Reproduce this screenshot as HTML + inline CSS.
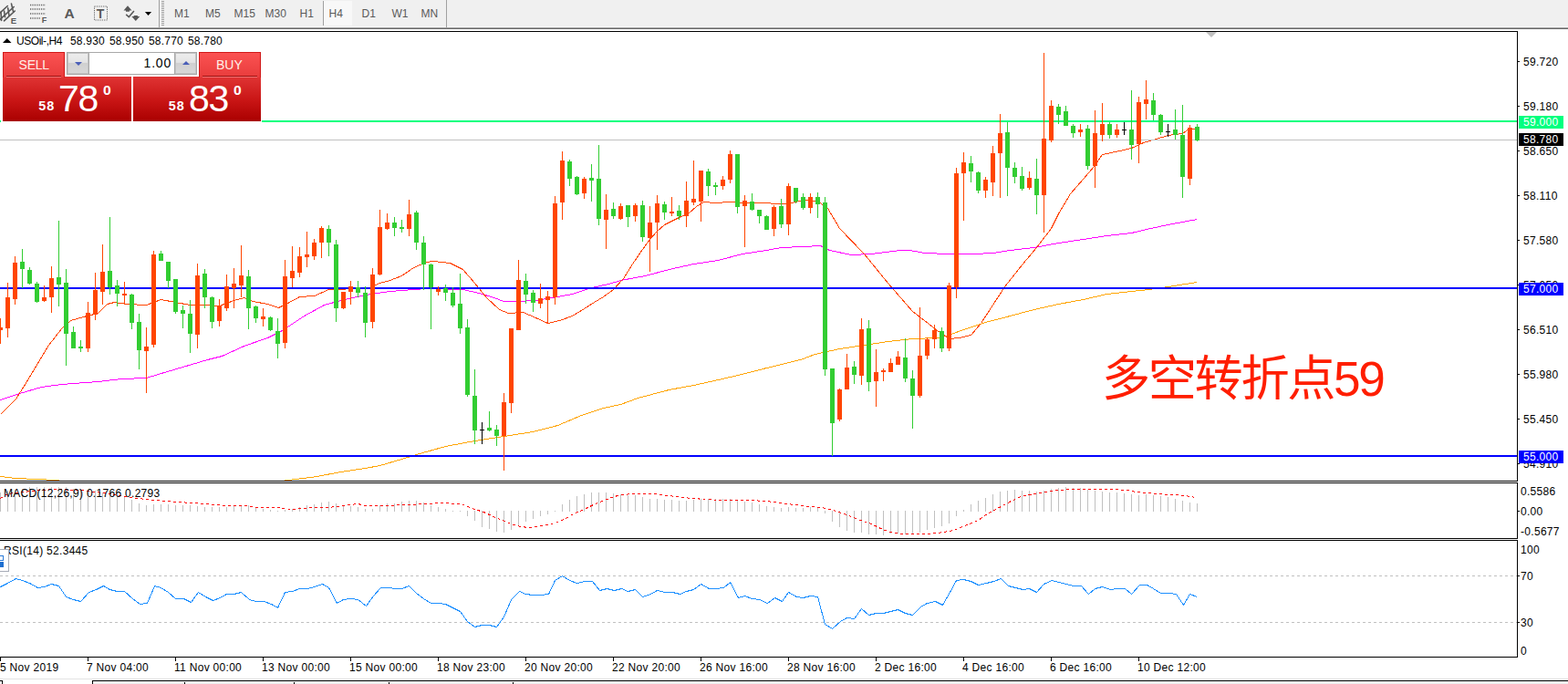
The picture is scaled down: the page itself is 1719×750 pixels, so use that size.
<!DOCTYPE html>
<html><head><meta charset="utf-8"><title>USOil H4</title>
<style>
html,body{margin:0;padding:0;background:#fff;}
body{width:1719px;height:750px;position:relative;overflow:hidden;font-family:"Liberation Sans",sans-serif;font-size:12px;color:#000;}
.t{position:absolute;white-space:nowrap;font-size:12px;line-height:14px;letter-spacing:0.3px;}
.tag{position:absolute;width:49px;height:14px;line-height:13px;font-size:12px;box-sizing:border-box;padding-left:5px;padding-top:1px;white-space:nowrap;letter-spacing:0.3px;}
#tb{position:absolute;left:0;top:0;width:1719px;height:30px;background:#f0f0f0;box-sizing:border-box;border-bottom:1px solid #f8f8f8;}
#tbl{position:absolute;left:0;top:30px;width:1719px;height:2px;background:linear-gradient(to bottom,#a0a0a0 0,#a0a0a0 50%,#696969 50%,#696969 100%);}
.tf{position:absolute;top:8px;font-size:12px;line-height:14px;color:#5a5a5a;}

#oct div{position:absolute;}
.wbg{background:#fff;}
.big{background:linear-gradient(to bottom,#e03434 0%,#c81414 55%,#a90000 100%);}
.btn{background:linear-gradient(to bottom,#fb5252 0%,#e83c3c 100%);box-sizing:border-box;border:1px solid #d01818;border-bottom:none;}
.btn span{position:absolute;top:4.6px;font-size:14px;line-height:16px;color:#fff0e8;}
.ul{height:1px;background:#a01010;box-shadow:0 1px 0 #f07070;}
.vol{box-sizing:border-box;border:1px solid #a8a8a8;background:#fff;}
.sp{top:0;width:23px;height:23px;background:linear-gradient(to bottom,#eeeeee 0%,#e4e4e4 45%,#d0d0d0 50%,#d8d8d8 100%);box-shadow:0 0 0 1px #c4c4c4 inset;}
.sp i{position:absolute;left:7.5px;width:0;height:0;border-left:4px solid transparent;border-right:4px solid transparent;}
.sp i.dn{top:10px;border-top:4px solid #4a5fb8;}
.sp i.up{top:9px;border-bottom:4px solid #4a5fb8;}
.vt{right:27px;top:3px;font-size:14px;line-height:16px;color:#000;letter-spacing:0.8px;}
.p1{font-size:14.4px;font-weight:bold;color:#fff;line-height:15px;letter-spacing:0.9px;}
.p2{font-size:41px;color:#fff;line-height:41px;letter-spacing:-1.2px;}
.p3{font-size:14.8px;font-weight:bold;color:#fff;line-height:15px;transform:scaleX(1.06);transform-origin:0 0;}
</style></head><body>
<svg width="1719" height="750" viewBox="0 0 1719 750" style="position:absolute;left:0;top:0"><defs><clipPath id="cp"><rect x="0" y="35" width="1663" height="492"/></clipPath></defs><g clip-path="url(#cp)"><polyline points="0.5,522.5 16.5,524.5 40.5,525.5 61.5,526.5 75.5,528.5 300.5,528.5 316.5,526.5 347.5,522.5 373.5,517.5 400.5,513.5 416.5,510.5 440.5,503.5 456.5,498.5 488.5,489.5 520.5,483.5 552.5,478.5 584.5,473.5 611.5,466.5 637.5,455.5 661.5,447.5 680.5,443.5 699.5,436.5 733.5,427.5 760.5,422.5 787.5,416.5 813.5,410.5 840.5,403.5 861.5,398.5 880.5,393.5 893.5,388.5 920.5,382.5 947.5,378.5 973.5,374.5 1000.5,371.5 1027.5,370.5 1040.5,367.5 1053.5,362.5 1080.5,353.5 1107.5,346.5 1133.5,339.5 1160.5,333.5 1187.5,328.5 1213.5,322.5 1240.5,319.5 1259.5,317.5 1280.5,314.5 1312.5,309.5" fill="none" stroke="#ffa500" stroke-width="1" shape-rendering="crispEdges"/><polyline points="0.5,438.5 21.5,431.5 45.5,424.5 67.5,421.5 107.5,418.5 133.5,415.5 160.5,414.5 173.5,410.5 200.5,402.5 227.5,394.5 243.5,390.5 267.5,379.5 293.5,370.5 309.5,362.5 333.5,346.5 355.5,334.5 373.5,329.5 400.5,323.5 427.5,319.5 440.5,318.5 467.5,316.5 507.5,317.5 525.5,321.5 541.5,326.5 552.5,330.5 565.5,330.5 587.5,329.5 605.5,326.5 627.5,322.5 648.5,315.5 667.5,311.5 680.5,307.5 707.5,302.5 733.5,295.5 760.5,289.5 787.5,285.5 813.5,278.5 840.5,274.5 856.5,271.5 880.5,270.5 899.5,269.5 909.5,274.5 933.5,279.5 955.5,278.5 987.5,274.5 997.5,274.5 1013.5,277.5 1040.5,278.5 1067.5,278.5 1088.5,277.5 1107.5,274.5 1133.5,271.5 1160.5,266.5 1187.5,262.5 1213.5,258.5 1240.5,255.5 1261.5,250.5 1280.5,246.5 1312.5,240.5" fill="none" stroke="#ff00ff" stroke-width="1" shape-rendering="crispEdges"/><polyline points="0.5,454.5 17.5,437.5 29.5,418.5 53.5,378.5 67.5,360.5 77.5,351.5 91.5,347.5 107.5,343.5 117.5,333.5 125.5,331.5 139.5,333.5 160.5,334.5 176.5,328.5 192.5,331.5 208.5,334.5 224.5,334.5 240.5,335.5 256.5,329.5 267.5,326.5 277.5,330.5 293.5,333.5 305.5,337.5 315.5,332.5 328.5,325.5 344.5,324.5 360.5,317.5 373.5,317.5 384.5,316.5 405.5,315.5 416.5,310.5 427.5,307.5 440.5,302.5 453.5,293.5 467.5,287.5 475.5,286.5 493.5,288.5 507.5,295.5 520.5,310.5 533.5,326.5 547.5,339.5 557.5,343.5 573.5,342.5 587.5,348.5 600.5,354.5 613.5,351.5 627.5,346.5 640.5,338.5 651.5,331.5 661.5,325.5 672.5,317.5 683.5,305.5 693.5,289.5 704.5,273.5 712.5,262.5 720.5,253.5 728.5,246.5 744.5,238.5 755.5,233.5 763.5,226.5 771.5,221.5 784.5,222.5 800.5,221.5 813.5,222.5 832.5,222.5 856.5,223.5 867.5,222.5 880.5,219.5 896.5,220.5 907.5,228.5 920.5,250.5 947.5,278.5 973.5,310.5 1000.5,341.5 1013.5,351.5 1027.5,362.5 1040.5,371.5 1051.5,370.5 1064.5,367.5 1075.5,354.5 1088.5,334.5 1101.5,314.5 1120.5,290.5 1136.5,271.5 1152.5,250.5 1160.5,234.5 1173.5,212.5 1187.5,196.5 1199.5,182.5 1208.5,169.5 1227.5,165.5 1240.5,162.5 1253.5,156.5 1267.5,152.5 1280.5,148.5 1296.5,146.5 1304.5,140.5 1313.5,142.5" fill="none" stroke="#ff4500" stroke-width="1" shape-rendering="crispEdges"/></g>
<rect x="0" y="132" width="1663" height="2" fill="#00ff7f"/>
<rect x="0" y="153" width="1663" height="1" fill="#c0c0c0"/>
<rect x="0" y="315" width="1663" height="2" fill="#0000ff"/>
<rect x="0" y="499" width="1663" height="2" fill="#0000ff"/>
<g shape-rendering="crispEdges"><rect x="0" y="349" width="1" height="28" fill="#ff4500"/><rect x="-2" y="359" width="5" height="3" fill="#ff4500"/><rect x="8" y="310" width="1" height="60" fill="#ff4500"/><rect x="6" y="326" width="5" height="34" fill="#ff4500"/><rect x="16" y="281" width="1" height="53" fill="#ff4500"/><rect x="14" y="288" width="5" height="40" fill="#ff4500"/><rect x="24" y="273" width="1" height="43" fill="#32cd32"/><rect x="22" y="287" width="5" height="8" fill="#32cd32"/><rect x="32" y="293" width="1" height="19" fill="#32cd32"/><rect x="30" y="296" width="5" height="15" fill="#32cd32"/><rect x="40" y="309" width="1" height="23" fill="#32cd32"/><rect x="38" y="311" width="5" height="20" fill="#32cd32"/><rect x="48" y="313" width="1" height="18" fill="#ff4500"/><rect x="46" y="326" width="5" height="4" fill="#ff4500"/><rect x="56" y="292" width="1" height="51" fill="#ff4500"/><rect x="54" y="305" width="5" height="21" fill="#ff4500"/><rect x="64" y="242" width="1" height="94" fill="#32cd32"/><rect x="62" y="304" width="5" height="8" fill="#32cd32"/><rect x="72" y="295" width="1" height="106" fill="#32cd32"/><rect x="70" y="310" width="5" height="56" fill="#32cd32"/><rect x="80" y="358" width="1" height="24" fill="#32cd32"/><rect x="78" y="364" width="5" height="18" fill="#32cd32"/><rect x="88" y="373" width="1" height="13" fill="#32cd32"/><rect x="86" y="380" width="5" height="2" fill="#32cd32"/><rect x="96" y="331" width="1" height="55" fill="#ff4500"/><rect x="94" y="343" width="5" height="39" fill="#ff4500"/><rect x="104" y="299" width="1" height="52" fill="#ff4500"/><rect x="102" y="318" width="5" height="27" fill="#ff4500"/><rect x="112" y="268" width="1" height="66" fill="#ff4500"/><rect x="110" y="298" width="5" height="22" fill="#ff4500"/><rect x="120" y="238" width="1" height="85" fill="#32cd32"/><rect x="118" y="297" width="5" height="18" fill="#32cd32"/><rect x="128" y="307" width="1" height="29" fill="#32cd32"/><rect x="126" y="313" width="5" height="9" fill="#32cd32"/><rect x="136" y="309" width="1" height="25" fill="#ff4500"/><rect x="134" y="322" width="5" height="2" fill="#ff4500"/><rect x="144" y="322" width="1" height="39" fill="#32cd32"/><rect x="142" y="323" width="5" height="31" fill="#32cd32"/><rect x="152" y="344" width="1" height="61" fill="#32cd32"/><rect x="150" y="353" width="5" height="31" fill="#32cd32"/><rect x="160" y="359" width="1" height="72" fill="#ff4500"/><rect x="158" y="380" width="5" height="5" fill="#ff4500"/><rect x="168" y="275" width="1" height="106" fill="#ff4500"/><rect x="166" y="279" width="5" height="99" fill="#ff4500"/><rect x="176" y="275" width="1" height="11" fill="#32cd32"/><rect x="174" y="278" width="5" height="8" fill="#32cd32"/><rect x="184" y="287" width="1" height="29" fill="#32cd32"/><rect x="182" y="287" width="5" height="21" fill="#32cd32"/><rect x="192" y="306" width="1" height="38" fill="#32cd32"/><rect x="190" y="306" width="5" height="36" fill="#32cd32"/><rect x="200" y="335" width="1" height="25" fill="#32cd32"/><rect x="198" y="340" width="5" height="4" fill="#32cd32"/><rect x="208" y="329" width="1" height="58" fill="#32cd32"/><rect x="206" y="344" width="5" height="22" fill="#32cd32"/><rect x="216" y="289" width="1" height="93" fill="#ff4500"/><rect x="214" y="302" width="5" height="65" fill="#ff4500"/><rect x="224" y="295" width="1" height="43" fill="#32cd32"/><rect x="222" y="300" width="5" height="26" fill="#32cd32"/><rect x="232" y="325" width="1" height="35" fill="#32cd32"/><rect x="230" y="326" width="5" height="27" fill="#32cd32"/><rect x="240" y="328" width="1" height="30" fill="#ff4500"/><rect x="238" y="335" width="5" height="17" fill="#ff4500"/><rect x="248" y="301" width="1" height="40" fill="#ff4500"/><rect x="246" y="314" width="5" height="24" fill="#ff4500"/><rect x="256" y="294" width="1" height="44" fill="#ff4500"/><rect x="254" y="311" width="5" height="5" fill="#ff4500"/><rect x="264" y="269" width="1" height="57" fill="#ff4500"/><rect x="262" y="302" width="5" height="11" fill="#ff4500"/><rect x="272" y="296" width="1" height="65" fill="#32cd32"/><rect x="270" y="303" width="5" height="35" fill="#32cd32"/><rect x="280" y="335" width="1" height="19" fill="#32cd32"/><rect x="278" y="336" width="5" height="13" fill="#32cd32"/><rect x="288" y="338" width="1" height="20" fill="#ff4500"/><rect x="286" y="347" width="5" height="3" fill="#ff4500"/><rect x="296" y="347" width="1" height="16" fill="#32cd32"/><rect x="294" y="348" width="5" height="14" fill="#32cd32"/><rect x="304" y="349" width="1" height="44" fill="#32cd32"/><rect x="302" y="363" width="5" height="14" fill="#32cd32"/><rect x="312" y="285" width="1" height="97" fill="#ff4500"/><rect x="310" y="303" width="5" height="73" fill="#ff4500"/><rect x="320" y="270" width="1" height="45" fill="#ff4500"/><rect x="318" y="297" width="5" height="8" fill="#ff4500"/><rect x="328" y="271" width="1" height="33" fill="#ff4500"/><rect x="326" y="281" width="5" height="18" fill="#ff4500"/><rect x="336" y="254" width="1" height="39" fill="#ff4500"/><rect x="334" y="279" width="5" height="3" fill="#ff4500"/><rect x="344" y="262" width="1" height="23" fill="#ff4500"/><rect x="342" y="266" width="5" height="15" fill="#ff4500"/><rect x="352" y="248" width="1" height="35" fill="#ff4500"/><rect x="350" y="250" width="5" height="16" fill="#ff4500"/><rect x="360" y="247" width="1" height="34" fill="#32cd32"/><rect x="358" y="251" width="5" height="15" fill="#32cd32"/><rect x="368" y="263" width="1" height="90" fill="#32cd32"/><rect x="366" y="268" width="5" height="70" fill="#32cd32"/><rect x="376" y="320" width="1" height="19" fill="#ff4500"/><rect x="374" y="320" width="5" height="18" fill="#ff4500"/><rect x="384" y="308" width="1" height="26" fill="#ff4500"/><rect x="382" y="314" width="5" height="6" fill="#ff4500"/><rect x="392" y="308" width="1" height="18" fill="#32cd32"/><rect x="390" y="315" width="5" height="6" fill="#32cd32"/><rect x="400" y="314" width="1" height="56" fill="#32cd32"/><rect x="398" y="321" width="5" height="33" fill="#32cd32"/><rect x="408" y="294" width="1" height="66" fill="#ff4500"/><rect x="406" y="301" width="5" height="52" fill="#ff4500"/><rect x="416" y="230" width="1" height="72" fill="#ff4500"/><rect x="414" y="249" width="5" height="52" fill="#ff4500"/><rect x="424" y="234" width="1" height="18" fill="#ff4500"/><rect x="422" y="244" width="5" height="7" fill="#ff4500"/><rect x="432" y="238" width="1" height="21" fill="#32cd32"/><rect x="430" y="244" width="5" height="6" fill="#32cd32"/><rect x="440" y="241" width="1" height="14" fill="#32cd32"/><rect x="438" y="249" width="5" height="2" fill="#32cd32"/><rect x="448" y="219" width="1" height="40" fill="#ff4500"/><rect x="446" y="235" width="5" height="16" fill="#ff4500"/><rect x="456" y="231" width="1" height="43" fill="#32cd32"/><rect x="454" y="233" width="5" height="33" fill="#32cd32"/><rect x="464" y="259" width="1" height="59" fill="#32cd32"/><rect x="462" y="266" width="5" height="24" fill="#32cd32"/><rect x="472" y="289" width="1" height="72" fill="#32cd32"/><rect x="470" y="290" width="5" height="25" fill="#32cd32"/><rect x="480" y="314" width="1" height="10" fill="#ff4500"/><rect x="478" y="317" width="5" height="3" fill="#ff4500"/><rect x="488" y="312" width="1" height="18" fill="#32cd32"/><rect x="486" y="316" width="5" height="5" fill="#32cd32"/><rect x="496" y="315" width="1" height="22" fill="#32cd32"/><rect x="494" y="321" width="5" height="14" fill="#32cd32"/><rect x="504" y="300" width="1" height="66" fill="#32cd32"/><rect x="502" y="333" width="5" height="27" fill="#32cd32"/><rect x="512" y="350" width="1" height="85" fill="#32cd32"/><rect x="510" y="359" width="5" height="74" fill="#32cd32"/><rect x="520" y="405" width="1" height="82" fill="#32cd32"/><rect x="518" y="434" width="5" height="38" fill="#32cd32"/><rect x="528" y="463" width="1" height="24" fill="#000000"/><rect x="526" y="471" width="5" height="1" fill="#000000"/><rect x="536" y="451" width="1" height="22" fill="#32cd32"/><rect x="534" y="469" width="5" height="3" fill="#32cd32"/><rect x="544" y="466" width="1" height="23" fill="#32cd32"/><rect x="542" y="471" width="5" height="7" fill="#32cd32"/><rect x="552" y="431" width="1" height="85" fill="#ff4500"/><rect x="550" y="441" width="5" height="37" fill="#ff4500"/><rect x="560" y="360" width="1" height="93" fill="#ff4500"/><rect x="558" y="360" width="5" height="82" fill="#ff4500"/><rect x="568" y="285" width="1" height="77" fill="#ff4500"/><rect x="566" y="307" width="5" height="55" fill="#ff4500"/><rect x="576" y="300" width="1" height="33" fill="#32cd32"/><rect x="574" y="308" width="5" height="15" fill="#32cd32"/><rect x="584" y="318" width="1" height="24" fill="#32cd32"/><rect x="582" y="321" width="5" height="11" fill="#32cd32"/><rect x="592" y="311" width="1" height="27" fill="#ff4500"/><rect x="590" y="327" width="5" height="6" fill="#ff4500"/><rect x="600" y="319" width="1" height="36" fill="#ff4500"/><rect x="598" y="325" width="5" height="4" fill="#ff4500"/><rect x="608" y="215" width="1" height="119" fill="#ff4500"/><rect x="606" y="223" width="5" height="103" fill="#ff4500"/><rect x="616" y="166" width="1" height="75" fill="#ff4500"/><rect x="614" y="176" width="5" height="46" fill="#ff4500"/><rect x="624" y="175" width="1" height="29" fill="#32cd32"/><rect x="622" y="177" width="5" height="19" fill="#32cd32"/><rect x="632" y="193" width="1" height="21" fill="#32cd32"/><rect x="630" y="194" width="5" height="19" fill="#32cd32"/><rect x="640" y="194" width="1" height="24" fill="#ff4500"/><rect x="638" y="196" width="5" height="16" fill="#ff4500"/><rect x="648" y="180" width="1" height="41" fill="#32cd32"/><rect x="646" y="195" width="5" height="3" fill="#32cd32"/><rect x="656" y="159" width="1" height="88" fill="#32cd32"/><rect x="654" y="196" width="5" height="44" fill="#32cd32"/><rect x="664" y="213" width="1" height="60" fill="#ff4500"/><rect x="662" y="230" width="5" height="11" fill="#ff4500"/><rect x="672" y="222" width="1" height="18" fill="#32cd32"/><rect x="670" y="229" width="5" height="8" fill="#32cd32"/><rect x="680" y="223" width="1" height="18" fill="#ff4500"/><rect x="678" y="226" width="5" height="14" fill="#ff4500"/><rect x="688" y="225" width="1" height="24" fill="#32cd32"/><rect x="686" y="225" width="5" height="13" fill="#32cd32"/><rect x="696" y="223" width="1" height="20" fill="#ff4500"/><rect x="694" y="225" width="5" height="12" fill="#ff4500"/><rect x="704" y="220" width="1" height="45" fill="#32cd32"/><rect x="702" y="225" width="5" height="35" fill="#32cd32"/><rect x="712" y="226" width="1" height="72" fill="#ff4500"/><rect x="710" y="244" width="5" height="17" fill="#ff4500"/><rect x="720" y="214" width="1" height="60" fill="#ff4500"/><rect x="718" y="223" width="5" height="21" fill="#ff4500"/><rect x="728" y="221" width="1" height="20" fill="#32cd32"/><rect x="726" y="224" width="5" height="9" fill="#32cd32"/><rect x="736" y="216" width="1" height="21" fill="#ff4500"/><rect x="734" y="232" width="5" height="2" fill="#ff4500"/><rect x="744" y="225" width="1" height="16" fill="#32cd32"/><rect x="742" y="231" width="5" height="6" fill="#32cd32"/><rect x="752" y="199" width="1" height="50" fill="#ff4500"/><rect x="750" y="220" width="5" height="17" fill="#ff4500"/><rect x="760" y="176" width="1" height="49" fill="#ff4500"/><rect x="758" y="218" width="5" height="4" fill="#ff4500"/><rect x="768" y="187" width="1" height="56" fill="#ff4500"/><rect x="766" y="187" width="5" height="34" fill="#ff4500"/><rect x="776" y="185" width="1" height="30" fill="#32cd32"/><rect x="774" y="188" width="5" height="16" fill="#32cd32"/><rect x="784" y="200" width="1" height="14" fill="#32cd32"/><rect x="782" y="203" width="5" height="2" fill="#32cd32"/><rect x="792" y="193" width="1" height="15" fill="#ff4500"/><rect x="790" y="197" width="5" height="7" fill="#ff4500"/><rect x="800" y="165" width="1" height="36" fill="#ff4500"/><rect x="798" y="169" width="5" height="28" fill="#ff4500"/><rect x="808" y="169" width="1" height="65" fill="#32cd32"/><rect x="806" y="169" width="5" height="58" fill="#32cd32"/><rect x="816" y="214" width="1" height="57" fill="#ff4500"/><rect x="814" y="220" width="5" height="6" fill="#ff4500"/><rect x="824" y="212" width="1" height="19" fill="#32cd32"/><rect x="822" y="221" width="5" height="9" fill="#32cd32"/><rect x="832" y="230" width="1" height="15" fill="#32cd32"/><rect x="830" y="230" width="5" height="7" fill="#32cd32"/><rect x="840" y="236" width="1" height="16" fill="#32cd32"/><rect x="838" y="237" width="5" height="15" fill="#32cd32"/><rect x="848" y="225" width="1" height="34" fill="#ff4500"/><rect x="846" y="227" width="5" height="24" fill="#ff4500"/><rect x="856" y="218" width="1" height="32" fill="#32cd32"/><rect x="854" y="226" width="5" height="20" fill="#32cd32"/><rect x="864" y="201" width="1" height="57" fill="#ff4500"/><rect x="862" y="204" width="5" height="42" fill="#ff4500"/><rect x="872" y="206" width="1" height="17" fill="#32cd32"/><rect x="870" y="206" width="5" height="15" fill="#32cd32"/><rect x="880" y="212" width="1" height="18" fill="#32cd32"/><rect x="878" y="216" width="5" height="12" fill="#32cd32"/><rect x="888" y="212" width="1" height="22" fill="#ff4500"/><rect x="886" y="216" width="5" height="12" fill="#ff4500"/><rect x="896" y="211" width="1" height="28" fill="#32cd32"/><rect x="894" y="216" width="5" height="8" fill="#32cd32"/><rect x="904" y="216" width="1" height="196" fill="#32cd32"/><rect x="902" y="222" width="5" height="183" fill="#32cd32"/><rect x="912" y="404" width="1" height="96" fill="#32cd32"/><rect x="910" y="404" width="5" height="60" fill="#32cd32"/><rect x="920" y="426" width="1" height="36" fill="#ff4500"/><rect x="918" y="427" width="5" height="33" fill="#ff4500"/><rect x="928" y="388" width="1" height="39" fill="#ff4500"/><rect x="926" y="403" width="5" height="24" fill="#ff4500"/><rect x="936" y="396" width="1" height="25" fill="#32cd32"/><rect x="934" y="402" width="5" height="9" fill="#32cd32"/><rect x="944" y="349" width="1" height="73" fill="#ff4500"/><rect x="942" y="361" width="5" height="51" fill="#ff4500"/><rect x="952" y="351" width="1" height="78" fill="#32cd32"/><rect x="950" y="360" width="5" height="59" fill="#32cd32"/><rect x="960" y="383" width="1" height="63" fill="#ff4500"/><rect x="958" y="408" width="5" height="10" fill="#ff4500"/><rect x="968" y="404" width="1" height="14" fill="#ff4500"/><rect x="966" y="406" width="5" height="2" fill="#ff4500"/><rect x="976" y="393" width="1" height="15" fill="#ff4500"/><rect x="974" y="398" width="5" height="10" fill="#ff4500"/><rect x="984" y="385" width="1" height="15" fill="#ff4500"/><rect x="982" y="391" width="5" height="9" fill="#ff4500"/><rect x="992" y="371" width="1" height="48" fill="#32cd32"/><rect x="990" y="392" width="5" height="23" fill="#32cd32"/><rect x="1000" y="406" width="1" height="64" fill="#32cd32"/><rect x="998" y="415" width="5" height="19" fill="#32cd32"/><rect x="1008" y="337" width="1" height="99" fill="#ff4500"/><rect x="1006" y="390" width="5" height="44" fill="#ff4500"/><rect x="1016" y="370" width="1" height="24" fill="#ff4500"/><rect x="1014" y="372" width="5" height="18" fill="#ff4500"/><rect x="1024" y="356" width="1" height="26" fill="#ff4500"/><rect x="1022" y="362" width="5" height="10" fill="#ff4500"/><rect x="1032" y="359" width="1" height="27" fill="#32cd32"/><rect x="1030" y="363" width="5" height="19" fill="#32cd32"/><rect x="1040" y="310" width="1" height="75" fill="#ff4500"/><rect x="1038" y="313" width="5" height="69" fill="#ff4500"/><rect x="1048" y="184" width="1" height="143" fill="#ff4500"/><rect x="1046" y="190" width="5" height="125" fill="#ff4500"/><rect x="1056" y="167" width="1" height="75" fill="#ff4500"/><rect x="1054" y="178" width="5" height="12" fill="#ff4500"/><rect x="1064" y="171" width="1" height="29" fill="#32cd32"/><rect x="1062" y="179" width="5" height="9" fill="#32cd32"/><rect x="1072" y="188" width="1" height="24" fill="#32cd32"/><rect x="1070" y="189" width="5" height="20" fill="#32cd32"/><rect x="1080" y="194" width="1" height="23" fill="#ff4500"/><rect x="1078" y="197" width="5" height="12" fill="#ff4500"/><rect x="1088" y="160" width="1" height="55" fill="#ff4500"/><rect x="1086" y="168" width="5" height="32" fill="#ff4500"/><rect x="1096" y="125" width="1" height="92" fill="#ff4500"/><rect x="1094" y="146" width="5" height="22" fill="#ff4500"/><rect x="1104" y="134" width="1" height="81" fill="#32cd32"/><rect x="1102" y="145" width="5" height="39" fill="#32cd32"/><rect x="1112" y="178" width="1" height="23" fill="#32cd32"/><rect x="1110" y="184" width="5" height="10" fill="#32cd32"/><rect x="1120" y="183" width="1" height="26" fill="#32cd32"/><rect x="1118" y="193" width="5" height="14" fill="#32cd32"/><rect x="1128" y="188" width="1" height="20" fill="#ff4500"/><rect x="1126" y="195" width="5" height="11" fill="#ff4500"/><rect x="1136" y="174" width="1" height="61" fill="#32cd32"/><rect x="1134" y="196" width="5" height="18" fill="#32cd32"/><rect x="1144" y="58" width="1" height="197" fill="#ff4500"/><rect x="1142" y="152" width="5" height="62" fill="#ff4500"/><rect x="1152" y="110" width="1" height="46" fill="#ff4500"/><rect x="1150" y="116" width="5" height="38" fill="#ff4500"/><rect x="1160" y="114" width="1" height="22" fill="#32cd32"/><rect x="1158" y="117" width="5" height="9" fill="#32cd32"/><rect x="1168" y="116" width="1" height="22" fill="#32cd32"/><rect x="1166" y="122" width="5" height="16" fill="#32cd32"/><rect x="1176" y="136" width="1" height="15" fill="#32cd32"/><rect x="1174" y="138" width="5" height="8" fill="#32cd32"/><rect x="1184" y="136" width="1" height="14" fill="#ff4500"/><rect x="1182" y="142" width="5" height="3" fill="#ff4500"/><rect x="1192" y="137" width="1" height="49" fill="#32cd32"/><rect x="1190" y="141" width="5" height="41" fill="#32cd32"/><rect x="1200" y="121" width="1" height="85" fill="#ff4500"/><rect x="1198" y="146" width="5" height="36" fill="#ff4500"/><rect x="1208" y="113" width="1" height="42" fill="#ff4500"/><rect x="1206" y="136" width="5" height="12" fill="#ff4500"/><rect x="1216" y="134" width="1" height="18" fill="#32cd32"/><rect x="1214" y="136" width="5" height="12" fill="#32cd32"/><rect x="1224" y="136" width="1" height="15" fill="#ff4500"/><rect x="1222" y="142" width="5" height="6" fill="#ff4500"/><rect x="1232" y="134" width="1" height="14" fill="#000000"/><rect x="1230" y="142" width="5" height="1" fill="#000000"/><rect x="1240" y="99" width="1" height="76" fill="#32cd32"/><rect x="1238" y="142" width="5" height="17" fill="#32cd32"/><rect x="1248" y="106" width="1" height="73" fill="#ff4500"/><rect x="1246" y="112" width="5" height="46" fill="#ff4500"/><rect x="1256" y="88" width="1" height="43" fill="#ff4500"/><rect x="1254" y="109" width="5" height="5" fill="#ff4500"/><rect x="1264" y="102" width="1" height="30" fill="#32cd32"/><rect x="1262" y="110" width="5" height="16" fill="#32cd32"/><rect x="1272" y="125" width="1" height="23" fill="#32cd32"/><rect x="1270" y="126" width="5" height="19" fill="#32cd32"/><rect x="1280" y="136" width="1" height="14" fill="#000000"/><rect x="1278" y="144" width="5" height="1" fill="#000000"/><rect x="1288" y="120" width="1" height="33" fill="#32cd32"/><rect x="1286" y="142" width="5" height="6" fill="#32cd32"/><rect x="1296" y="115" width="1" height="102" fill="#32cd32"/><rect x="1294" y="148" width="5" height="46" fill="#32cd32"/><rect x="1304" y="137" width="1" height="66" fill="#ff4500"/><rect x="1302" y="140" width="5" height="56" fill="#ff4500"/><rect x="1312" y="136" width="1" height="19" fill="#32cd32"/><rect x="1310" y="139" width="5" height="15" fill="#32cd32"/></g>
<g shape-rendering="crispEdges"><rect x="0" y="540" width="1" height="21" fill="#c0c0c0"/><rect x="8" y="538" width="1" height="23" fill="#c0c0c0"/><rect x="16" y="537" width="1" height="24" fill="#c0c0c0"/><rect x="24" y="536" width="1" height="25" fill="#c0c0c0"/><rect x="32" y="534" width="1" height="27" fill="#c0c0c0"/><rect x="40" y="534" width="1" height="27" fill="#c0c0c0"/><rect x="48" y="534" width="1" height="27" fill="#c0c0c0"/><rect x="56" y="534" width="1" height="27" fill="#c0c0c0"/><rect x="64" y="534" width="1" height="27" fill="#c0c0c0"/><rect x="72" y="534" width="1" height="27" fill="#c0c0c0"/><rect x="80" y="536" width="1" height="25" fill="#c0c0c0"/><rect x="88" y="536" width="1" height="25" fill="#c0c0c0"/><rect x="96" y="538" width="1" height="23" fill="#c0c0c0"/><rect x="104" y="538" width="1" height="23" fill="#c0c0c0"/><rect x="112" y="540" width="1" height="21" fill="#c0c0c0"/><rect x="120" y="541" width="1" height="20" fill="#c0c0c0"/><rect x="128" y="543" width="1" height="18" fill="#c0c0c0"/><rect x="136" y="545" width="1" height="16" fill="#c0c0c0"/><rect x="144" y="548" width="1" height="13" fill="#c0c0c0"/><rect x="152" y="552" width="1" height="9" fill="#c0c0c0"/><rect x="160" y="554" width="1" height="7" fill="#c0c0c0"/><rect x="168" y="553" width="1" height="8" fill="#c0c0c0"/><rect x="176" y="553" width="1" height="8" fill="#c0c0c0"/><rect x="184" y="553" width="1" height="8" fill="#c0c0c0"/><rect x="192" y="554" width="1" height="7" fill="#c0c0c0"/><rect x="200" y="554" width="1" height="7" fill="#c0c0c0"/><rect x="208" y="554" width="1" height="7" fill="#c0c0c0"/><rect x="216" y="555" width="1" height="6" fill="#c0c0c0"/><rect x="224" y="556" width="1" height="5" fill="#c0c0c0"/><rect x="232" y="556" width="1" height="5" fill="#c0c0c0"/><rect x="240" y="556" width="1" height="5" fill="#c0c0c0"/><rect x="248" y="556" width="1" height="5" fill="#c0c0c0"/><rect x="256" y="555" width="1" height="6" fill="#c0c0c0"/><rect x="264" y="555" width="1" height="6" fill="#c0c0c0"/><rect x="272" y="554" width="1" height="7" fill="#c0c0c0"/><rect x="280" y="557" width="1" height="4" fill="#c0c0c0"/><rect x="288" y="558" width="1" height="3" fill="#c0c0c0"/><rect x="296" y="559" width="1" height="2" fill="#c0c0c0"/><rect x="304" y="560" width="1" height="1" fill="#c0c0c0"/><rect x="312" y="559" width="1" height="2" fill="#c0c0c0"/><rect x="320" y="558" width="1" height="3" fill="#c0c0c0"/><rect x="328" y="556" width="1" height="5" fill="#c0c0c0"/><rect x="336" y="554" width="1" height="7" fill="#c0c0c0"/><rect x="344" y="553" width="1" height="8" fill="#c0c0c0"/><rect x="352" y="551" width="1" height="10" fill="#c0c0c0"/><rect x="360" y="550" width="1" height="11" fill="#c0c0c0"/><rect x="368" y="552" width="1" height="9" fill="#c0c0c0"/><rect x="376" y="554" width="1" height="7" fill="#c0c0c0"/><rect x="384" y="555" width="1" height="6" fill="#c0c0c0"/><rect x="392" y="556" width="1" height="5" fill="#c0c0c0"/><rect x="400" y="558" width="1" height="3" fill="#c0c0c0"/><rect x="408" y="558" width="1" height="3" fill="#c0c0c0"/><rect x="416" y="554" width="1" height="7" fill="#c0c0c0"/><rect x="424" y="552" width="1" height="9" fill="#c0c0c0"/><rect x="432" y="552" width="1" height="9" fill="#c0c0c0"/><rect x="440" y="550" width="1" height="11" fill="#c0c0c0"/><rect x="448" y="549" width="1" height="12" fill="#c0c0c0"/><rect x="456" y="549" width="1" height="12" fill="#c0c0c0"/><rect x="464" y="551" width="1" height="10" fill="#c0c0c0"/><rect x="472" y="554" width="1" height="7" fill="#c0c0c0"/><rect x="480" y="556" width="1" height="5" fill="#c0c0c0"/><rect x="488" y="558" width="1" height="3" fill="#c0c0c0"/><rect x="496" y="560" width="1" height="1" fill="#c0c0c0"/><rect x="504" y="560" width="1" height="1" fill="#c0c0c0"/><rect x="512" y="560" width="1" height="6" fill="#c0c0c0"/><rect x="520" y="560" width="1" height="11" fill="#c0c0c0"/><rect x="528" y="560" width="1" height="18" fill="#c0c0c0"/><rect x="536" y="560" width="1" height="20" fill="#c0c0c0"/><rect x="544" y="560" width="1" height="23" fill="#c0c0c0"/><rect x="552" y="560" width="1" height="24" fill="#c0c0c0"/><rect x="560" y="560" width="1" height="21" fill="#c0c0c0"/><rect x="568" y="560" width="1" height="16" fill="#c0c0c0"/><rect x="576" y="560" width="1" height="12" fill="#c0c0c0"/><rect x="584" y="560" width="1" height="9" fill="#c0c0c0"/><rect x="592" y="560" width="1" height="6" fill="#c0c0c0"/><rect x="600" y="560" width="1" height="4" fill="#c0c0c0"/><rect x="608" y="560" width="1" height="1" fill="#c0c0c0"/><rect x="616" y="553" width="1" height="8" fill="#c0c0c0"/><rect x="624" y="548" width="1" height="13" fill="#c0c0c0"/><rect x="632" y="544" width="1" height="17" fill="#c0c0c0"/><rect x="640" y="542" width="1" height="19" fill="#c0c0c0"/><rect x="648" y="540" width="1" height="21" fill="#c0c0c0"/><rect x="656" y="540" width="1" height="21" fill="#c0c0c0"/><rect x="664" y="540" width="1" height="21" fill="#c0c0c0"/><rect x="672" y="541" width="1" height="20" fill="#c0c0c0"/><rect x="680" y="542" width="1" height="19" fill="#c0c0c0"/><rect x="688" y="543" width="1" height="18" fill="#c0c0c0"/><rect x="696" y="543" width="1" height="18" fill="#c0c0c0"/><rect x="704" y="545" width="1" height="16" fill="#c0c0c0"/><rect x="712" y="547" width="1" height="14" fill="#c0c0c0"/><rect x="720" y="547" width="1" height="14" fill="#c0c0c0"/><rect x="728" y="548" width="1" height="13" fill="#c0c0c0"/><rect x="736" y="548" width="1" height="13" fill="#c0c0c0"/><rect x="744" y="549" width="1" height="12" fill="#c0c0c0"/><rect x="752" y="549" width="1" height="12" fill="#c0c0c0"/><rect x="760" y="548" width="1" height="13" fill="#c0c0c0"/><rect x="768" y="547" width="1" height="14" fill="#c0c0c0"/><rect x="776" y="547" width="1" height="14" fill="#c0c0c0"/><rect x="784" y="547" width="1" height="14" fill="#c0c0c0"/><rect x="792" y="547" width="1" height="14" fill="#c0c0c0"/><rect x="800" y="547" width="1" height="14" fill="#c0c0c0"/><rect x="808" y="549" width="1" height="12" fill="#c0c0c0"/><rect x="816" y="550" width="1" height="11" fill="#c0c0c0"/><rect x="824" y="551" width="1" height="10" fill="#c0c0c0"/><rect x="832" y="553" width="1" height="8" fill="#c0c0c0"/><rect x="840" y="555" width="1" height="6" fill="#c0c0c0"/><rect x="848" y="556" width="1" height="5" fill="#c0c0c0"/><rect x="856" y="557" width="1" height="4" fill="#c0c0c0"/><rect x="864" y="556" width="1" height="5" fill="#c0c0c0"/><rect x="872" y="557" width="1" height="4" fill="#c0c0c0"/><rect x="880" y="557" width="1" height="4" fill="#c0c0c0"/><rect x="888" y="556" width="1" height="5" fill="#c0c0c0"/><rect x="896" y="556" width="1" height="5" fill="#c0c0c0"/><rect x="904" y="560" width="1" height="3" fill="#c0c0c0"/><rect x="912" y="560" width="1" height="12" fill="#c0c0c0"/><rect x="920" y="560" width="1" height="18" fill="#c0c0c0"/><rect x="928" y="560" width="1" height="22" fill="#c0c0c0"/><rect x="936" y="560" width="1" height="24" fill="#c0c0c0"/><rect x="944" y="560" width="1" height="24" fill="#c0c0c0"/><rect x="952" y="560" width="1" height="26" fill="#c0c0c0"/><rect x="960" y="560" width="1" height="26" fill="#c0c0c0"/><rect x="968" y="560" width="1" height="27" fill="#c0c0c0"/><rect x="976" y="560" width="1" height="25" fill="#c0c0c0"/><rect x="984" y="560" width="1" height="25" fill="#c0c0c0"/><rect x="992" y="560" width="1" height="26" fill="#c0c0c0"/><rect x="1000" y="560" width="1" height="26" fill="#c0c0c0"/><rect x="1008" y="560" width="1" height="24" fill="#c0c0c0"/><rect x="1016" y="560" width="1" height="21" fill="#c0c0c0"/><rect x="1024" y="560" width="1" height="19" fill="#c0c0c0"/><rect x="1032" y="560" width="1" height="17" fill="#c0c0c0"/><rect x="1040" y="560" width="1" height="14" fill="#c0c0c0"/><rect x="1048" y="560" width="1" height="6" fill="#c0c0c0"/><rect x="1056" y="559" width="1" height="2" fill="#c0c0c0"/><rect x="1064" y="553" width="1" height="8" fill="#c0c0c0"/><rect x="1072" y="549" width="1" height="12" fill="#c0c0c0"/><rect x="1080" y="546" width="1" height="15" fill="#c0c0c0"/><rect x="1088" y="542" width="1" height="19" fill="#c0c0c0"/><rect x="1096" y="539" width="1" height="22" fill="#c0c0c0"/><rect x="1104" y="538" width="1" height="23" fill="#c0c0c0"/><rect x="1112" y="537" width="1" height="24" fill="#c0c0c0"/><rect x="1120" y="538" width="1" height="23" fill="#c0c0c0"/><rect x="1128" y="538" width="1" height="23" fill="#c0c0c0"/><rect x="1136" y="539" width="1" height="22" fill="#c0c0c0"/><rect x="1144" y="538" width="1" height="23" fill="#c0c0c0"/><rect x="1152" y="536" width="1" height="25" fill="#c0c0c0"/><rect x="1160" y="535" width="1" height="26" fill="#c0c0c0"/><rect x="1168" y="534" width="1" height="27" fill="#c0c0c0"/><rect x="1176" y="535" width="1" height="26" fill="#c0c0c0"/><rect x="1184" y="535" width="1" height="26" fill="#c0c0c0"/><rect x="1192" y="537" width="1" height="24" fill="#c0c0c0"/><rect x="1200" y="538" width="1" height="23" fill="#c0c0c0"/><rect x="1208" y="539" width="1" height="22" fill="#c0c0c0"/><rect x="1216" y="540" width="1" height="21" fill="#c0c0c0"/><rect x="1224" y="540" width="1" height="21" fill="#c0c0c0"/><rect x="1232" y="541" width="1" height="20" fill="#c0c0c0"/><rect x="1240" y="542" width="1" height="19" fill="#c0c0c0"/><rect x="1248" y="543" width="1" height="18" fill="#c0c0c0"/><rect x="1256" y="542" width="1" height="19" fill="#c0c0c0"/><rect x="1264" y="543" width="1" height="18" fill="#c0c0c0"/><rect x="1272" y="544" width="1" height="17" fill="#c0c0c0"/><rect x="1280" y="545" width="1" height="16" fill="#c0c0c0"/><rect x="1288" y="547" width="1" height="14" fill="#c0c0c0"/><rect x="1296" y="549" width="1" height="12" fill="#c0c0c0"/><rect x="1304" y="551" width="1" height="10" fill="#c0c0c0"/><rect x="1312" y="552" width="1" height="9" fill="#c0c0c0"/></g>
<polyline points="0.5,546.5 8.5,541.5 24.5,539.5 56.5,536.5 88.5,537.5 120.5,541.5 136.5,544.5 150.5,546.5 180.5,549.5 210.5,551.5 250.5,554.5 270.5,554.5 278.5,556.5 302.5,556.5 320.5,558.5 345.5,556.5 360.5,556.5 375.5,554.5 392.5,552.5 400.5,554.5 420.5,554.5 445.5,553.5 470.5,552.5 480.5,551.5 505.5,552.5 512.5,555.5 520.5,558.5 530.5,561.5 540.5,566.5 550.5,570.5 560.5,574.5 570.5,577.5 580.5,578.5 595.5,576.5 608.5,573.5 620.5,568.5 630.5,562.5 640.5,558.5 650.5,553.5 660.5,549.5 670.5,545.5 680.5,542.5 695.5,541.5 715.5,541.5 732.5,543.5 758.5,546.5 790.5,548.5 820.5,548.5 840.5,549.5 855.5,551.5 878.5,554.5 900.5,556.5 910.5,558.5 925.5,563.5 940.5,569.5 955.5,574.5 965.5,579.5 975.5,583.5 990.5,585.5 1015.5,585.5 1028.5,584.5 1045.5,581.5 1060.5,575.5 1072.5,570.5 1082.5,563.5 1095.5,556.5 1108.5,549.5 1119.5,544.5 1128.5,542.5 1150.5,538.5 1175.5,536.5 1190.5,536.5 1210.5,536.5 1218.5,536.5 1235.5,537.5 1245.5,539.5 1260.5,540.5 1268.5,541.5 1285.5,542.5 1298.5,543.5 1311.5,545.5" fill="none" stroke="#ff0000" stroke-width="1" stroke-dasharray="3 3" shape-rendering="crispEdges"/>
<g shape-rendering="crispEdges"><line x1="0" y1="631.5" x2="1663" y2="631.5" stroke="#c0c0c0" stroke-dasharray="3 3"/><line x1="0" y1="682.5" x2="1663" y2="682.5" stroke="#c0c0c0" stroke-dasharray="3 3"/></g>
<polyline points="0.5,643.5 8.5,639.5 17.5,634.5 24.5,636.5 32.5,639.5 41.5,644.5 48.5,643.5 56.5,640.5 64.5,642.5 72.5,654.5 80.5,657.5 88.5,659.5 97.5,649.5 105.5,646.5 113.5,642.5 120.5,646.5 128.5,648.5 136.5,648.5 145.5,656.5 153.5,662.5 161.5,661.5 169.5,642.5 176.5,644.5 184.5,649.5 192.5,656.5 201.5,656.5 209.5,660.5 217.5,649.5 225.5,654.5 233.5,658.5 241.5,655.5 248.5,651.5 256.5,651.5 264.5,649.5 273.5,657.5 280.5,659.5 289.5,659.5 297.5,662.5 304.5,666.5 312.5,649.5 320.5,648.5 328.5,645.5 337.5,645.5 344.5,643.5 353.5,640.5 360.5,644.5 369.5,661.5 376.5,657.5 384.5,656.5 392.5,657.5 401.5,664.5 409.5,653.5 417.5,644.5 425.5,644.5 433.5,645.5 440.5,645.5 448.5,642.5 456.5,650.5 464.5,656.5 472.5,661.5 480.5,661.5 488.5,662.5 496.5,666.5 504.5,670.5 512.5,681.5 520.5,687.5 528.5,685.5 536.5,685.5 544.5,687.5 552.5,676.5 560.5,657.5 569.5,648.5 576.5,651.5 584.5,652.5 592.5,652.5 601.5,651.5 608.5,636.5 616.5,631.5 624.5,636.5 632.5,639.5 641.5,637.5 649.5,637.5 657.5,647.5 665.5,645.5 673.5,647.5 681.5,645.5 688.5,648.5 696.5,646.5 704.5,654.5 713.5,651.5 720.5,647.5 729.5,649.5 737.5,649.5 745.5,651.5 752.5,648.5 760.5,646.5 768.5,640.5 777.5,645.5 784.5,645.5 793.5,644.5 800.5,638.5 809.5,655.5 816.5,653.5 824.5,656.5 832.5,657.5 841.5,661.5 849.5,655.5 857.5,659.5 864.5,649.5 873.5,654.5 880.5,655.5 888.5,653.5 896.5,654.5 904.5,684.5 912.5,689.5 921.5,681.5 928.5,677.5 936.5,678.5 944.5,667.5 952.5,674.5 960.5,672.5 968.5,672.5 976.5,670.5 984.5,668.5 992.5,672.5 1000.5,674.5 1009.5,665.5 1016.5,661.5 1025.5,659.5 1033.5,663.5 1041.5,649.5 1048.5,636.5 1056.5,635.5 1064.5,637.5 1072.5,641.5 1081.5,639.5 1089.5,637.5 1097.5,634.5 1105.5,642.5 1113.5,644.5 1121.5,646.5 1128.5,645.5 1136.5,649.5 1144.5,640.5 1153.5,636.5 1160.5,638.5 1169.5,640.5 1176.5,642.5 1185.5,642.5 1193.5,651.5 1200.5,645.5 1208.5,643.5 1217.5,646.5 1224.5,645.5 1233.5,645.5 1240.5,651.5 1249.5,641.5 1257.5,641.5 1264.5,645.5 1272.5,650.5 1281.5,650.5 1289.5,651.5 1297.5,663.5 1304.5,651.5 1312.5,654.5" fill="none" stroke="#1e90ff" stroke-width="1" shape-rendering="crispEdges"/>
<text x="1207.9" y="433.9" font-size="53.2" fill="#ff1e00" textLength="311" lengthAdjust="spacing" font-family="&quot;Liberation Sans&quot;, &quot;Noto Sans CJK SC&quot;, sans-serif">多空转折点59</text>
<g shape-rendering="crispEdges"><rect x="0" y="34" width="1664" height="1" fill="#000000"/><rect x="1663" y="34" width="1" height="494" fill="#000000"/><rect x="0" y="527" width="1664" height="1" fill="#000000"/><rect x="0" y="529" width="1664" height="1" fill="#000000"/><rect x="1663" y="529" width="1" height="62" fill="#000000"/><rect x="0" y="590" width="1664" height="1" fill="#000000"/><rect x="0" y="592" width="1664" height="1" fill="#000000"/><rect x="1663" y="592" width="1" height="129" fill="#000000"/><rect x="0" y="720" width="1664" height="1" fill="#000000"/><rect x="1664" y="67" width="2" height="1" fill="#000000"/><rect x="1664" y="116" width="2" height="1" fill="#000000"/><rect x="1664" y="165" width="2" height="1" fill="#000000"/><rect x="1664" y="214" width="2" height="1" fill="#000000"/><rect x="1664" y="263" width="2" height="1" fill="#000000"/><rect x="1664" y="312" width="2" height="1" fill="#000000"/><rect x="1664" y="361" width="2" height="1" fill="#000000"/><rect x="1664" y="410" width="2" height="1" fill="#000000"/><rect x="1664" y="459" width="2" height="1" fill="#000000"/><rect x="1664" y="508" width="2" height="1" fill="#000000"/><rect x="1664" y="560" width="2" height="1" fill="#000000"/><rect x="1664" y="631" width="2" height="1" fill="#000000"/><rect x="1664" y="682" width="2" height="1" fill="#000000"/><rect x="0" y="721" width="1" height="4" fill="#000000"/><rect x="96" y="721" width="1" height="4" fill="#000000"/><rect x="192" y="721" width="1" height="4" fill="#000000"/><rect x="288" y="721" width="1" height="4" fill="#000000"/><rect x="384" y="721" width="1" height="4" fill="#000000"/><rect x="480" y="721" width="1" height="4" fill="#000000"/><rect x="576" y="721" width="1" height="4" fill="#000000"/><rect x="672" y="721" width="1" height="4" fill="#000000"/><rect x="768" y="721" width="1" height="4" fill="#000000"/><rect x="864" y="721" width="1" height="4" fill="#000000"/><rect x="960" y="721" width="1" height="4" fill="#000000"/><rect x="1056" y="721" width="1" height="4" fill="#000000"/><rect x="1152" y="721" width="1" height="4" fill="#000000"/><rect x="1248" y="721" width="1" height="4" fill="#000000"/></g>
<path d="M1322 35 L1334 35 L1328 41 Z" fill="#c0c0c0"/></svg>
<div class="t" style="left:1670px;top:61px;">59.720</div>
<div class="t" style="left:1670px;top:110px;">59.180</div>
<div class="t" style="left:1670px;top:159px;">58.650</div>
<div class="t" style="left:1670px;top:208px;">58.110</div>
<div class="t" style="left:1670px;top:257px;">57.580</div>
<div class="t" style="left:1670px;top:306px;">57.050</div>
<div class="t" style="left:1670px;top:355px;">56.510</div>
<div class="t" style="left:1670px;top:404px;">55.980</div>
<div class="t" style="left:1670px;top:453px;">55.450</div>
<div class="t" style="left:1670px;top:502px;">54.910</div>
<div class="t" style="left:1667px;top:532px;">0.5586</div>
<div class="t" style="left:1667px;top:554px;">0.00</div>
<div class="t" style="left:1667px;top:576px;">-0.5677</div>
<div class="t" style="left:1667px;top:596px;">100</div>
<div class="t" style="left:1667px;top:625px;">70</div>
<div class="t" style="left:1667px;top:676px;">30</div>
<div class="t" style="left:1667px;top:707px;">0</div>
<div class="tag" style="left:1665px;top:127px;background:#00ff7f;color:#fff">59.000</div>
<div class="tag" style="left:1665px;top:146px;background:#000;color:#fff">58.780</div>
<div class="tag" style="left:1665px;top:310px;background:#0000ff;color:#fff">57.000</div>
<div class="tag" style="left:1665px;top:494px;background:#0000ff;color:#fff">55.000</div>
<div class="t" style="left:0px;top:725px;">5 Nov 2019</div>
<div class="t" style="left:95px;top:725px;">7 Nov 04:00</div>
<div class="t" style="left:191px;top:725px;">11 Nov 00:00</div>
<div class="t" style="left:287px;top:725px;">13 Nov 00:00</div>
<div class="t" style="left:383px;top:725px;">15 Nov 00:00</div>
<div class="t" style="left:479px;top:725px;">18 Nov 23:00</div>
<div class="t" style="left:575px;top:725px;">20 Nov 20:00</div>
<div class="t" style="left:671px;top:725px;">22 Nov 20:00</div>
<div class="t" style="left:767px;top:725px;">26 Nov 16:00</div>
<div class="t" style="left:863px;top:725px;">28 Nov 16:00</div>
<div class="t" style="left:959px;top:725px;">2 Dec 16:00</div>
<div class="t" style="left:1055px;top:725px;">4 Dec 16:00</div>
<div class="t" style="left:1151px;top:725px;">6 Dec 16:00</div>
<div class="t" style="left:1247px;top:725px;">10 Dec 12:00</div>
<div class="t" style="left:18px;top:38px;letter-spacing:-0.45px">USOil-,H4</div>
<div class="t" style="left:77px;top:38px;letter-spacing:0.2px">58.930</div>
<div class="t" style="left:120px;top:38px;letter-spacing:0.2px">58.950</div>
<div class="t" style="left:163px;top:38px;letter-spacing:0.2px">58.770</div>
<div class="t" style="left:206px;top:38px;letter-spacing:0.2px">58.780</div>
<div class="t" style="left:4px;top:534px;">MACD(12,26,9) 0.1766 0.2793</div>
<div class="t" style="left:4px;top:597px;">RSI(14) 52.3445</div>
<div style="position:absolute;left:-1px;top:602px;width:9px;height:23px;background:#fff;border:1px solid #a8adb8;box-sizing:content-box"><div style="position:absolute;left:0;top:6px;width:3px;height:4px;border:1px solid #2a7ad8;border-left:none"></div><div style="position:absolute;left:0;top:13px;width:4px;height:6px;background:#1e6fd0"></div></div>
<div id="tb"></div><div id="tbl"></div>
<div style="position:absolute;left:354px;top:1px;width:31px;height:27px;background:#f8f8f8;border-left:1px solid #a0a0a0;"></div>
<div class="tf" style="left:191px">M1</div>
<div class="tf" style="left:225px">M5</div>
<div class="tf" style="left:256.5px">M15</div>
<div class="tf" style="left:290.5px">M30</div>
<div class="tf" style="left:328.5px">H1</div>
<div class="tf" style="left:360.6px">H4</div>
<div class="tf" style="left:396.5px">D1</div>
<div class="tf" style="left:429.5px">W1</div>
<div class="tf" style="left:461.5px">MN</div>
<div style="position:absolute;left:174px;top:0;width:1px;height:30px;background:#a0a0a0"></div>
<div style="position:absolute;left:489px;top:0;width:1px;height:30px;background:#a0a0a0"></div>
<div style="position:absolute;left:177px;top:1px;width:3px;height:27px;background:repeating-linear-gradient(to bottom,#a0a0a0 0,#a0a0a0 1px,#f0f0f0 1px,#f0f0f0 2px)"></div><svg width="175" height="30" viewBox="0 0 175 30" style="position:absolute;left:0;top:0">
<g stroke="#585858" stroke-width="1.6" fill="none" stroke-linecap="round">
<path d="M-1 15 L8.3 6.5 M-1 22.3 L15.2 7.5 M4.5 22.8 L16.3 12"/>
<path d="M1 13.4 L1.6 22.4 M4.5 12 L5.5 18.6 M8.7 8.9 L10 17.2 M12.5 4.1 L14.6 13.1"/>
</g>
<g fill="#585858" font-family="Liberation Sans, sans-serif" font-weight="bold">
<text x="11.8" y="25.8" font-size="9.5">E</text>
<text x="45.8" y="25.3" font-size="9">F</text>
<text x="70.5" y="20.4" font-size="15.5">A</text>
<text x="105.7" y="20.3" font-size="14">T</text>
</g>
<g stroke="#606060" stroke-width="1.4" stroke-dasharray="1.2 1.2" fill="none">
<path d="M33 5.5 H50 M33 10 H50 M33 15 H50 M33 20 H45"/>
</g>
<rect x="103.5" y="7" width="14" height="15" fill="none" stroke="#606060" stroke-width="1" stroke-dasharray="1.2 1.2"/>
<g fill="#585858">
<path d="M135.5 11.4 L140 6.3 L144.5 11.4 L141.9 11.4 L141.9 12.7 L138 12.7 L138 11.4 Z"/>
<path d="M144.3 18.1 L146.7 18.1 L146.7 16.9 L150.9 16.9 L150.9 18.1 L153.3 18.1 L148.8 23 Z"/>
</g>
<path d="M138.2 15.9 L141.3 18.6 L146.9 11.9" fill="none" stroke="#585858" stroke-width="1.5"/>
<path d="M158.9 13.1 L166.1 13.1 L162.5 17.1 Z" fill="#000"/>
</svg>

<div id="oct">
<div class="wbg" style="left:1px;top:55px;width:286px;height:79px"></div>
<div class="big" style="left:3px;top:84px;width:141px;height:49px"></div>
<div class="big" style="left:146px;top:84px;width:140px;height:49px"></div>
<div class="btn" style="left:3px;top:57px;width:68px;height:28px"><span style="left:16.5px;letter-spacing:-0.2px">SELL</span></div>
<div class="btn" style="left:218px;top:57px;width:68px;height:28px"><span style="left:18px">BUY</span></div>
<div class="ul" style="left:7px;top:83px;width:60px"></div>
<div class="ul" style="left:222px;top:83px;width:60px"></div>
<div class="wbg" style="left:71px;top:57px;width:147px;height:27px"></div>
<div class="vol" style="left:73px;top:57px;width:143px;height:25px">
 <div class="sp" style="left:0;border-right:1px solid #a8a8a8"><i class="dn"></i></div>
 <div class="sp" style="right:0;border-left:1px solid #a8a8a8"><i class="up"></i></div>
 <div class="vt">1.00</div>
</div>
<div class="p1" style="left:42.3px;top:109px">58</div>
<div class="p2" style="left:64px;top:87.6px">78</div>
<div class="p3" style="left:113.3px;top:91.8px">0</div>
<div class="p1" style="left:184.8px;top:109px">58</div>
<div class="p2" style="left:207px;top:87.6px">83</div>
<div class="p3" style="left:256px;top:91.8px">0</div>
<svg width="12" height="8" style="position:absolute;left:1.5px;top:41px"><path d="M1 6 L10.5 6 L5.75 1 Z" fill="#000"/></svg>
</div>

<div style="position:absolute;left:202px;top:748px;width:1px;height:2px;background:#000;z-index:3"></div><div style="position:absolute;left:322px;top:748px;width:1px;height:2px;background:#000;z-index:3"></div><div style="position:absolute;left:426px;top:748px;width:1px;height:2px;background:#000;z-index:3"></div><div style="position:absolute;left:562px;top:748px;width:1px;height:2px;background:#000;z-index:3"></div>
<div style="position:absolute;left:0;top:744px;width:1719px;height:1px;background:#e3e3e3"></div>
<div style="position:absolute;left:101px;top:746px;width:1618px;height:4px;background:#f0f0f0;border-top:1px solid #000;border-left:1px solid #000;box-sizing:border-box"></div>
<div style="position:absolute;left:0;top:746px;width:3px;height:4px;border-top:1px solid #000;border-right:1px solid #000;box-sizing:border-box"></div>

</body></html>
